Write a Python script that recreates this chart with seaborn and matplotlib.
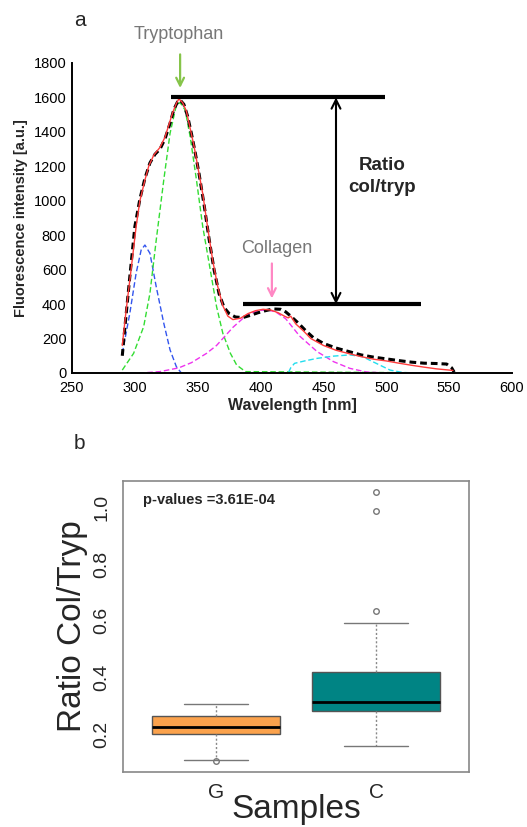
import numpy as np
import pandas as pd
import matplotlib
matplotlib.use("Agg")
import matplotlib.pyplot as plt
import seaborn as sns

sns.set_style("white")
plt.rcParams['font.family'] = ['Liberation Sans', 'DejaVu Sans']

# ---- panel a : emission spectrum and its gaussian components ----
meas_wl = [290, 292, 296, 300, 304, 308, 312, 316, 320, 324, 328, 331, 334, 336, 339,
           342, 345, 348, 351, 355, 359, 363, 367, 371, 375, 380, 386, 392, 398, 404,
           410, 416, 420, 424, 430, 436, 442, 450, 460, 470, 480, 490, 500, 510, 520,
           530, 540, 548, 552, 554]
meas = [100, 260, 560, 850, 1010, 1130, 1220, 1270, 1300, 1360, 1450, 1530, 1575, 1585, 1560,
        1490, 1390, 1280, 1160, 980, 780, 600, 460, 380, 345, 325, 322, 335, 350, 362,
        372, 370, 355, 330, 290, 245, 205, 172, 145, 125, 105, 92, 82, 72, 63,
        57, 55, 52, 30, 5]

fit_wl = [290, 293, 297, 301, 304, 308, 311, 315, 320, 324, 327, 330, 333, 335, 338,
          341, 344, 347, 350, 354, 358, 362, 366, 370, 374, 378, 384, 390, 396, 402,
          408, 414, 419, 422, 424, 428, 434, 440, 450, 460, 470, 480, 490, 500, 510,
          520, 530, 540, 550, 553]
fit = [160, 360, 600, 850, 1000, 1120, 1200, 1265, 1310, 1370, 1440, 1510, 1565, 1592, 1570,
       1520, 1420, 1320, 1200, 1040, 840, 650, 500, 390, 330, 310, 318, 345, 362, 370,
       366, 350, 330, 320, 330, 285, 245, 200, 160, 132, 113, 95, 80, 70, 57,
       45, 34, 24, 17, 15]

blue_wl = [290, 296, 301, 305, 308, 312, 317, 323, 328, 333, 337, 553]
blue = [114, 347, 579, 714, 743, 695, 501, 289, 134, 37, 0, 0]

green_wl = [290, 299, 307, 312, 317, 323, 328, 333, 336, 340, 344, 349, 354, 360, 365,
            370, 376, 381, 388, 553]
green = [17, 114, 269, 463, 772, 1121, 1392, 1556, 1570, 1527, 1372, 1121, 850, 598, 385,
         230, 114, 46, 8, 0]

mag_wl = [290, 305, 320, 335, 345, 357, 365, 378, 389, 398, 405, 412, 420, 431, 445,
          458, 471, 484, 500, 553]
mag = [0, 0, 8, 30, 60, 114, 160, 265, 337, 362, 367, 355, 315, 215, 124,
       66, 27, 6, 0, 0]

cyan_wl = [290, 422, 424, 427, 435, 445, 458, 471, 481, 492, 503, 513, 525, 553]
cyan = [0, 0, 30, 56, 70, 85, 98, 105, 95, 56, 17, 3, 0, 0]

tryp_peak = 1600
col_peak = 400
tryp_span = (329, 499)
col_span = (386, 528)

# ---- panel b : ratio per sample group ----
g_ratio = [0.105, 0.108, 0.202, 0.215, 0.226, 0.240, 0.265, 0.285, 0.307]
c_ratio = [0.158, 0.200, 0.240, 0.270, 0.281, 0.290, 0.300, 0.310, 0.314, 0.330,
           0.360, 0.390, 0.420, 0.592, 0.636, 0.988, 1.054]
groups = ['G', 'C']
box_colors = ['#fba24c', '#008484']

fig = plt.figure(figsize=(5.27, 8.27), dpi=100)

ax1 = fig.add_axes([72/527, (827-373)/827, 440/527, 310/827])
sns.lineplot(x=blue_wl, y=blue, ax=ax1, color='#3355ee', lw=1, linestyle=(0, (4, 2)))
sns.lineplot(x=green_wl, y=green, ax=ax1, color='#33dd33', lw=1, linestyle=(0, (4, 2)))
sns.lineplot(x=mag_wl, y=mag, ax=ax1, color='#ee33ee', lw=1, linestyle=(0, (4, 2)))
sns.lineplot(x=cyan_wl, y=cyan, ax=ax1, color='#22ddee', lw=1, linestyle=(0, (4, 2)))
sns.lineplot(x=meas_wl, y=meas, ax=ax1, color='black', lw=2.2, linestyle=(0, (2.2, 1.3)))
sns.lineplot(x=fit_wl, y=fit, ax=ax1, color='#ff3b3b', lw=1)

ax1.plot(tryp_span, [tryp_peak, tryp_peak], color='black', lw=3, solid_capstyle='butt')
ax1.plot(col_span, [col_peak, col_peak], color='black', lw=3, solid_capstyle='butt')
ax1.annotate('', xy=(460, tryp_peak), xytext=(460, col_peak),
             arrowprops=dict(arrowstyle='<->', lw=1.5, color='black',
                             shrinkA=0, shrinkB=0, mutation_scale=16))
ax1.text(497, 1140, 'Ratio\ncol/tryp', ha='center', va='center', fontsize=13.5,
         fontweight='bold', linespacing=1.4)
ax1.annotate('', xy=(336, 1655), xytext=(336, 1850), annotation_clip=False,
             arrowprops=dict(arrowstyle='->', lw=1.6, color='#86c44a',
                             shrinkA=0, shrinkB=0, mutation_scale=14))
ax1.text(335, 1963, 'Tryptophan', ha='center', va='center', fontsize=13, color='#777777')
ax1.annotate('', xy=(409, 433), xytext=(409, 636),
             arrowprops=dict(arrowstyle='->', lw=1.6, color='#ff88c4',
                             shrinkA=0, shrinkB=0, mutation_scale=14))
ax1.text(413, 724, 'Collagen', ha='center', va='center', fontsize=13, color='#777777')

ax1.set_xlim(250, 600)
ax1.set_ylim(0, 1800)
ax1.set_xticks(np.arange(250, 601, 50))
ax1.set_yticks(np.arange(0, 1801, 200))
ax1.tick_params(direction='in', length=4, width=1.2, labelsize=10.5, pad=4, colors='black')
ax1.tick_params(axis='x', pad=6)
sns.despine(ax=ax1)
for s in ['left', 'bottom']:
    ax1.spines[s].set_linewidth(1.4)
    ax1.spines[s].set_color('black')
ax1.set_xlabel('Wavelength [nm]', fontsize=11.5, fontweight='bold', labelpad=2)
ax1.set_ylabel('Fluorescence intensity [a.u.]', fontsize=10.5, fontweight='bold', labelpad=4)

fig.text(74/527, 1 - 20/827, 'a', fontsize=15, va='center', ha='left')
fig.text(74/527, 1 - 443/827, 'b', fontsize=15, va='center', ha='left')

# panel b
df = pd.DataFrame({'Samples': ['G'] * len(g_ratio) + ['C'] * len(c_ratio),
                   'ratio': g_ratio + c_ratio})
ax2 = fig.add_axes([123/527, (827-772)/827, 346/527, 291/827])
sns.boxplot(data=df, x='Samples', y='ratio', hue='Samples', order=groups, hue_order=groups,
            palette=box_colors, saturation=1, legend=False, width=0.8, whis=1.5, ax=ax2,
            linecolor='#555555', linewidth=1,
            medianprops=dict(color='black', linewidth=2),
            whiskerprops=dict(color='#888888', linestyle=(0, (1.5, 1.5))),
            capprops=dict(color='#777777'),
            flierprops=dict(marker='o', markerfacecolor='none', markeredgecolor='#777777',
                            markersize=4, markeredgewidth=1))
ax2.set_xlim(-0.58, 1.58)
ax2.set_ylim(0.066, 1.094)
ax2.set_yticks([0.2, 0.4, 0.6, 0.8, 1.0])
ax2.set_yticklabels(['0.2', '0.4', '0.6', '0.8', '1.0'], rotation=90, va='center')
ax2.tick_params(axis='y', direction='out', length=5, color='#777777', labelsize=14, pad=4)
ax2.tick_params(axis='x', direction='out', length=5, color='#777777', labelsize=15, pad=3)
for s in ax2.spines.values():
    s.set_color('#888888')
    s.set_linewidth(1.2)
ax2.set_xlabel('Samples', fontsize=24, labelpad=-6)
ax2.set_ylabel('Ratio Col/Tryp', fontsize=24, labelpad=4)
ax2.text(-0.456, 1.027, 'p-values =3.61E-04', fontsize=10.5, fontweight='bold',
         ha='left', va='center')

fig.savefig('out.png', dpi=100)
